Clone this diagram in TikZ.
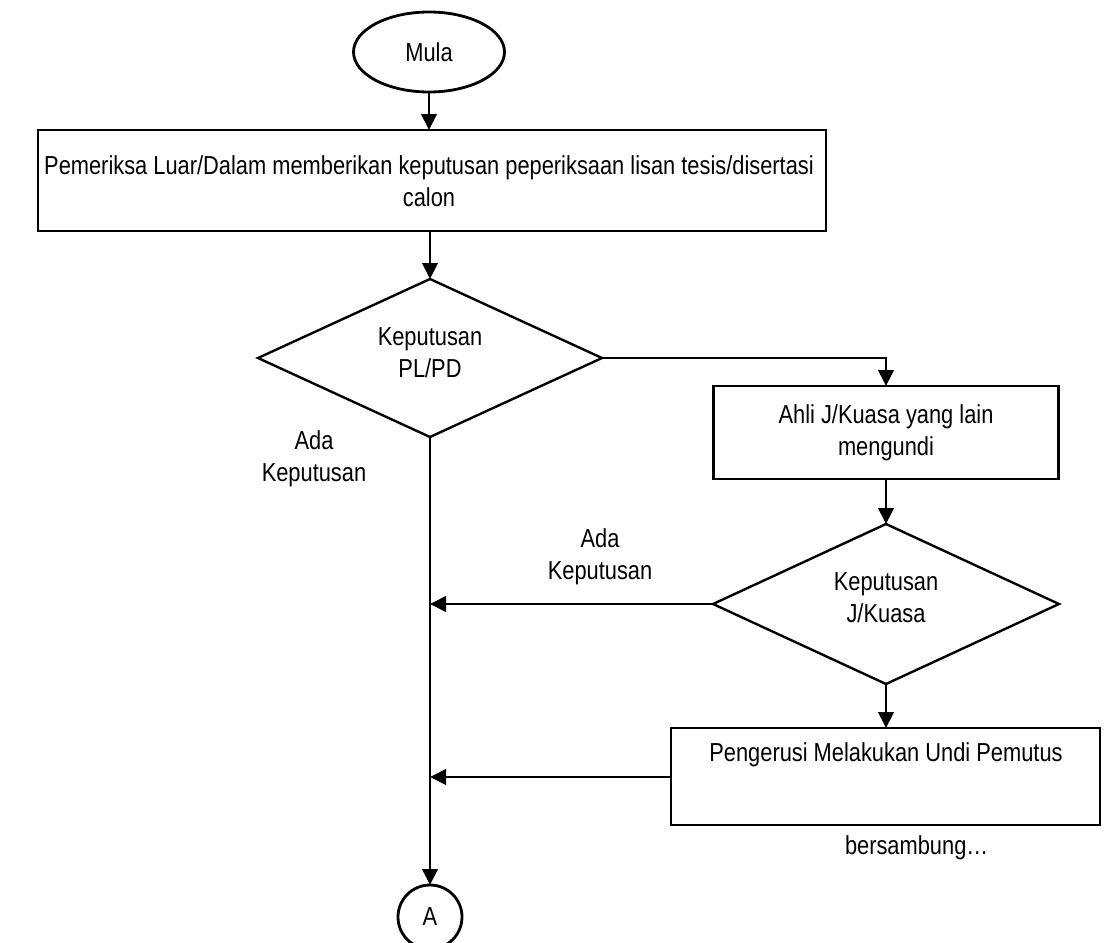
\documentclass[tikz,border=0pt]{standalone}
\usepackage{fontspec}
\setmainfont[FakeStretch=0.84]{Liberation Sans}
\usetikzlibrary{shapes.geometric,arrows.meta}
\begin{document}
\begin{tikzpicture}[x=0.75pt,y=-0.75pt,
  every node/.style={font=\fontsize{19.5}{24}\selectfont, inner sep=0pt, outer sep=0pt},
  box/.style={draw, line width=2.1pt, rectangle, align=center},
  dia/.style={draw, line width=1.8pt, diamond, aspect=2.15, align=center},
  term/.style={draw, line width=2.1pt, ellipse, align=center},
  conn/.style={line width=2.1pt, -{Triangle[length=12pt,width=11.5pt]}},
  lbl/.style={align=center}]
\useasboundingbox (0,0) rectangle (1106,942);
\node[term, minimum width=151*0.75pt, minimum height=80*0.75pt] (start) at (429,52) {Mula};
\node[box, minimum width=788*0.75pt, minimum height=101*0.75pt] (r1) at (432,180.5) {};
\node[lbl] (t1) at (429,181) {Pemeriksa Luar/Dalam memberikan keputusan peperiksaan lisan tesis/disertasi\\calon};
\node[dia, minimum width=344*0.75pt, minimum height=158*0.75pt] (d1) at (430,358) {};
\node[lbl] (t2) at (430,353) {Keputusan\\PL/PD};
\node[box, minimum width=345*0.75pt, minimum height=93*0.75pt] (r2) at (886,432.5) {};
\node[lbl] (t3) at (886,433) {Ahli J/Kuasa yang lain\\mengundi};
\node[dia, minimum width=346*0.75pt, minimum height=160*0.75pt] (d2) at (886,604) {};
\node[lbl] (t4) at (886,598) {Keputusan\\J/Kuasa};
\node[box, minimum width=429*0.75pt, minimum height=97*0.75pt] (r3) at (885.5,776.5) {};
\node (t5) at (886,755) {Pengerusi Melakukan Undi Pemutus};
\node[draw, line width=2.1pt, circle, minimum size=64*0.75pt] (a) at (430,917) {A};
\node[lbl] (l1) at (314,459) {Ada\\Keputusan};
\node[lbl] (l2) at (600,557) {Ada\\Keputusan};
\node[anchor=west] (cont) at (845,848) {bersambung…};
\coordinate (j1) at (430,604);
\coordinate (j2) at (430,777);
\coordinate (c1) at (886,358);
\draw[conn] (start.south) -- (r1.north -| start.south);
\draw[conn] (r1.south -| d1.north) -- (d1.north);
\draw[conn] (d1.east) -- (c1) -- (r2.north -| c1);
\draw[conn] (r2.south -| d2.north) -- (d2.north);
\draw[conn] (d2.south) -- (r3.north -| d2.south);
\draw[conn] (d1.south) -- (a.north);
\draw[conn] (d2.west) -- (j1);
\draw[conn] (r3.west |- j2) -- (j2);
\end{tikzpicture}
\end{document}
